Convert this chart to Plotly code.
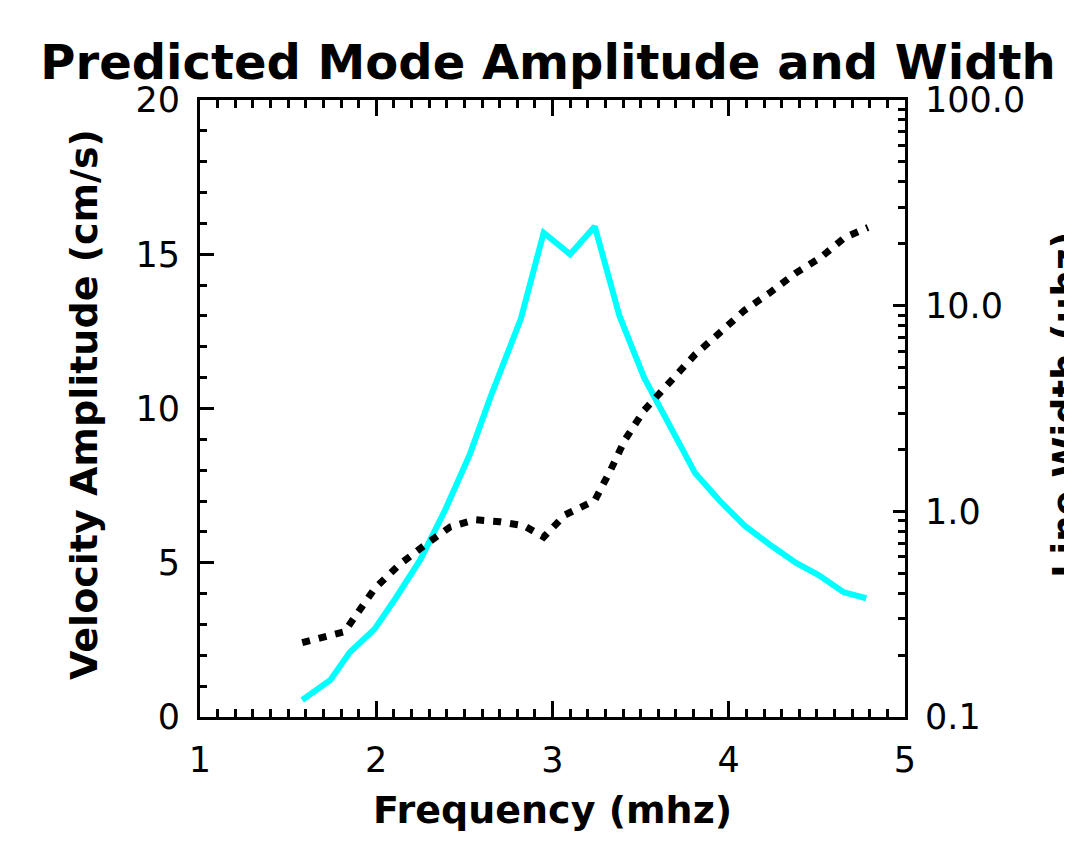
import plotly.graph_objects as go

# Velocity amplitude (cm/s) vs frequency (mHz)
amp_freq = [1.58, 1.74, 1.85, 1.99, 2.11, 2.25, 2.39, 2.53, 2.65, 2.82, 2.95, 3.10, 3.24,
            3.38, 3.52, 3.65, 3.81, 3.95, 4.09, 4.23, 4.38, 4.51, 4.65, 4.78]
amp_vals = [0.55, 1.2, 2.1, 2.85, 3.85, 5.1, 6.7, 8.5, 10.4, 12.9, 15.7, 15.0, 15.9,
            13.0, 11.0, 9.6, 7.9, 7.0, 6.2, 5.6, 5.0, 4.6, 4.05, 3.85]

# Line width (uHz), log scale, vs frequency (mHz)
wid_freq = [1.58, 1.82, 1.99, 2.13, 2.28, 2.42, 2.56, 2.70, 2.84, 2.95, 3.07, 3.24,
            3.33, 3.41, 3.52, 3.67, 3.81, 3.95, 4.09, 4.23, 4.38, 4.52, 4.66, 4.79]
wid_vals = [0.23, 0.26, 0.42, 0.55, 0.69, 0.84, 0.91, 0.89, 0.85, 0.75, 0.96, 1.13,
            1.59, 2.22, 3.1, 4.3, 5.8, 7.4, 9.5, 11.5, 14.4, 17.1, 21.5, 24.0]

x_ticks = [1, 2, 3, 4, 5]
y_ticks = [0, 5, 10, 15, 20]
y2_ticks = [0.1, 1, 10, 100]
y2_labels = ["0.1", "1.0", "10.0", "100.0"]
y2_minor = [m * d for d in (0.1, 1, 10) for m in range(2, 10)]

FONT = "DejaVu Sans"

# The page body has an 8px default margin; size the figure so the plot lands
# where the reference's does in the 1072x841 window.
OFF = 8
W, H = 1072 - OFF, 841 - OFF
L, T = 200 - OFF, 100 - OFF
PW, PH = 705, 617

fig = go.Figure()
fig.add_trace(go.Scatter(x=amp_freq, y=amp_vals, mode="lines",
                         line=dict(color="#00FFFF", width=6), yaxis="y", showlegend=False))
fig.add_trace(go.Scatter(x=wid_freq, y=wid_vals, mode="lines",
                         line=dict(color="black", width=7, dash="8px,9px"), yaxis="y2",
                         showlegend=False))

axis_common = dict(showgrid=False, zeroline=False, showline=True, linecolor="black",
                   linewidth=3, ticks="inside", tickcolor="black", tickwidth=3,
                   tickfont=dict(family=FONT, size=35, color="black"), ticklabelstandoff=10)


def px_x(x):
    return (x - 200) / PW


def px_y(y):
    return (717 - y) / PH


fig.update_layout(
    width=W, height=H,
    margin=dict(l=L, r=W - L - PW, t=T, b=H - T - PH),
    paper_bgcolor="white", plot_bgcolor="white",
    title=dict(text="Predicted Mode Amplitude and Width", x=(548 - OFF) / W, xref="container",
               xanchor="center", y=1 - (62 - OFF) / H, yref="container", yanchor="middle",
               font=dict(family=FONT, size=48, color="black", weight="bold")),
    xaxis=dict(range=[1, 5], tickvals=x_ticks, ticklen=16, mirror="ticks",
               minor=dict(dtick=0.1, ticklen=8, ticks="inside", tickwidth=3, tickcolor="black"),
               **axis_common),
    yaxis=dict(range=[0, 20], tickvals=y_ticks, ticklen=14,
               minor=dict(dtick=1, ticklen=7, ticks="inside", tickwidth=3, tickcolor="black"),
               **axis_common),
    yaxis2=dict(type="log", range=[-1, 2], overlaying="y", side="right",
                tickvals=y2_ticks, ticktext=y2_labels, ticklen=12,
                minor=dict(tickvals=y2_minor, ticklen=7, ticks="inside", tickwidth=3,
                           tickcolor="black"),
                **axis_common),
    annotations=[
        dict(text="Frequency (mhz)", xref="paper", yref="paper", x=px_x(552), y=px_y(810),
             xanchor="center", yanchor="middle", showarrow=False,
             font=dict(family=FONT, size=38, color="black", weight="bold")),
        dict(text="Velocity Amplitude (cm/s)", xref="paper", yref="paper",
             x=px_x(84), y=px_y(405), textangle=-90, xanchor="center", yanchor="middle",
             showarrow=False, font=dict(family=FONT, size=38, color="black", weight="bold")),
        dict(text="Line Width (μhz)", xref="paper", yref="paper",
             x=px_x(1066), y=px_y(405), textangle=-90, xanchor="center", yanchor="middle",
             showarrow=False, font=dict(family=FONT, size=37, color="black", weight="bold")),
    ],
)

fig.write_html("out.html")
